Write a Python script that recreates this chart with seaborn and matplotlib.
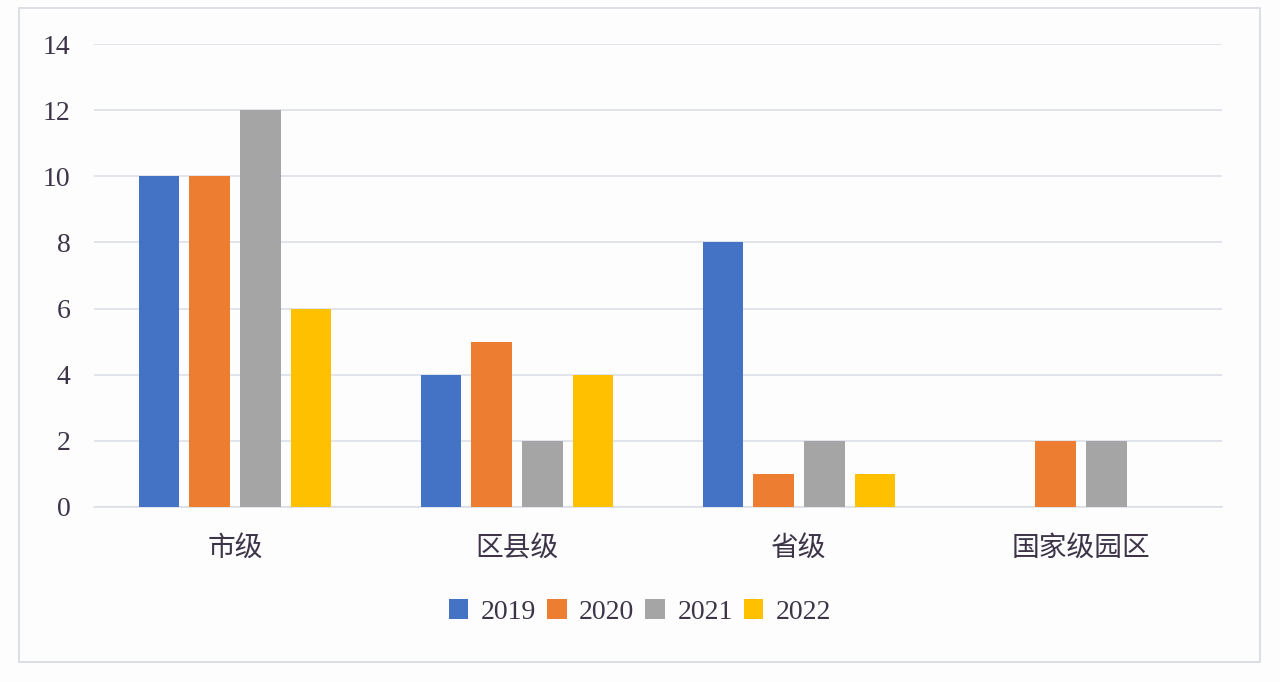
import pandas as pd
import seaborn as sns
import matplotlib.pyplot as plt
from matplotlib.patches import Rectangle

categories = ["市级", "区县级", "省级", "国家级园区"]
years = ["2019", "2020", "2021", "2022"]
values_2019 = [10, 4, 8, 0]
values_2020 = [10, 5, 1, 2]
values_2021 = [12, 2, 2, 2]
values_2022 = [6, 4, 1, 0]
y_ticks = [0, 2, 4, 6, 8, 10, 12, 14]

colors = ["#4472C4", "#ED7D31", "#A5A5A5", "#FFC000"]
text_color = "#3d3448"
grid_color = "#d9dde6"


def build_frame():
    series = [values_2019, values_2020, values_2021, values_2022]
    rows = []
    for year, vals in zip(years, series):
        for cat, v in zip(categories, vals):
            rows.append({"category": cat, "year": year, "value": v})
    return pd.DataFrame(rows)


def main():
    sns.set_theme(style="white")
    plt.rcParams["font.family"] = ["Liberation Serif", "Noto Sans CJK SC", "DejaVu Sans"]

    df = build_frame()

    fig = plt.figure(figsize=(12.8, 6.82), dpi=100, facecolor="#fdfdfe")
    # outer frame of the chart area
    fig.patches.append(Rectangle((19 / 1280, 1 - 662 / 682), (1260 - 19) / 1280, (662 - 8) / 682,
                                 transform=fig.transFigure, fill=False,
                                 edgecolor="#d6dae2", linewidth=1.2))

    ax = fig.add_axes([94 / 1280, 1 - 507 / 682, (1222 - 94) / 1280, (507 - 44) / 682])
    ax.set_facecolor("none")

    sns.barplot(data=df, x="category", y="value", hue="year", palette=colors,
                width=0.72, gap=0.2, saturation=1, linewidth=0, ax=ax, zorder=3)

    ax.set_ylim(0, 14)
    ax.set_xlim(-0.5, 3.5)
    ax.set_yticks(y_ticks)
    ax.set_yticklabels([str(t) for t in y_ticks])
    ax.yaxis.grid(True, color=grid_color, linewidth=1.1, zorder=0)
    ax.set_axisbelow(True)
    for s in ["top", "right", "left"]:
        ax.spines[s].set_visible(False)
    ax.spines["bottom"].set_color(grid_color)
    ax.spines["bottom"].set_linewidth(1.1)
    ax.set_xlabel("")
    ax.set_ylabel("")
    ax.tick_params(axis="y", length=0, pad=17, labelsize=20, labelcolor=text_color)
    ax.tick_params(axis="x", length=0, pad=19, labelsize=20, labelcolor=text_color)
    for lab in ax.get_xticklabels():
        lab.set_fontfamily(["Noto Sans CJK SC", "DejaVu Sans"])
        lab.set_fontweight("light")

    handles, labels = ax.get_legend_handles_labels()
    ax.get_legend().remove()
    leg = fig.legend(handles, labels, loc="center", bbox_to_anchor=(0.5, 1 - 612 / 682),
                     ncol=4, frameon=False, fontsize=20, handlelength=0.7,
                     handleheight=0.7, handletextpad=0.45, columnspacing=0.4)
    for t in leg.get_texts():
        t.set_color(text_color)

    fig.savefig("out.png", dpi=100, facecolor=fig.get_facecolor())


if __name__ == "__main__":
    main()
